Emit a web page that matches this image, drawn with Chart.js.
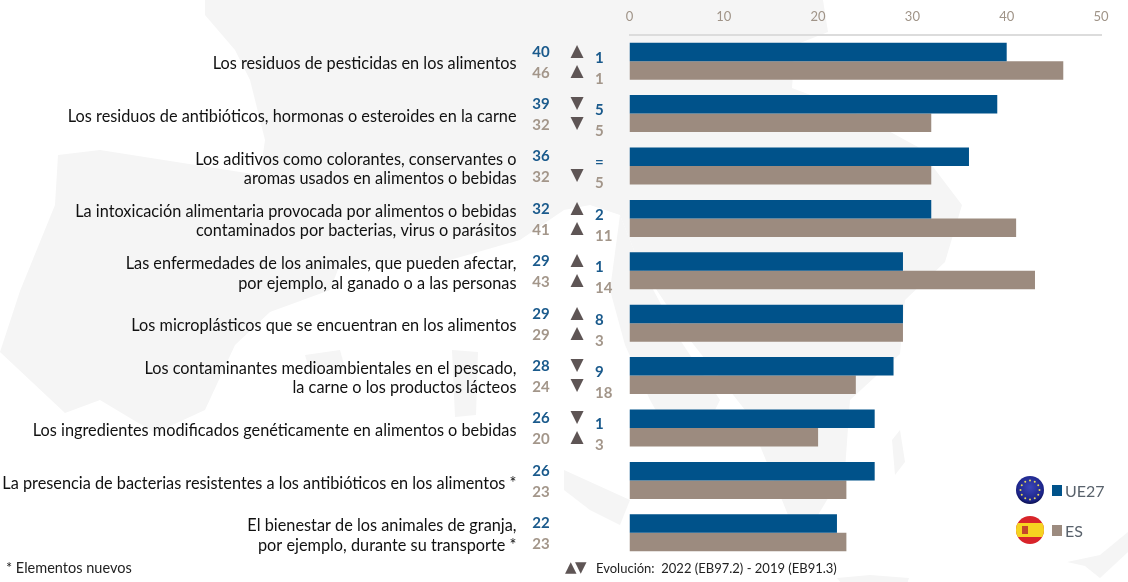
<!DOCTYPE html>
<html lang="es">
<head>
<meta charset="utf-8">
<title>Preocupaciones alimentarias</title>
<script src="https://cdn.jsdelivr.net/npm/chart.js@4/dist/chart.umd.min.js"></script>
<style>
    body { margin: 0; background: #fff; font-family: Lato, sans-serif; }
    #wrap { position: relative; width: 1128px; height: 582px; overflow: hidden; }
    #map, #chart { position: absolute; left: 0; top: 0; }
    .note { position: absolute; font-size: 14.5px; color: #222; white-space: pre; }
    .arrows { position: absolute; left: 565px; top: 558px; font-family: "DejaVu Sans"; color: #5e5555; font-size: 15px; letter-spacing: -1.5px; }
    .legend-item { position: absolute; left: 1052px; font-size: 16px; color: #59626c; line-height: 20px; padding-left: 13px; }
    .legend-item i { position: absolute; left: 0; top: 4px; width: 10px; height: 11px; }
    .flag { position: absolute; left: 1016px; }
</style>
</head>
<body>
<div id="wrap">
    <!-- faint map of Europe behind the chart -->
    <svg id="map" width="1128" height="582" fill="#f5f5f5">
        <polygon points="205,0 823,0 828,32 795,45 792,88 850,110 918,147 962,205 945,262 905,300 900,354 850,400 845,470 815,520 790,520 770,470 745,410 690,340 640,265 620,215 590,205 564,210 520,240 450,260 341,262 330,290 270,312 235,345 205,410 155,433 100,400 65,413 0,352 20,291 55,205 58,155 100,150 260,175 265,140 250,80 235,50 205,15"/>
        <polygon points="640,265 680,340 720,400 700,440 670,435 650,400 625,345 610,290 620,215"/>
        <polygon points="564,470 630,500 620,525 590,510 564,490"/>
        <polygon points="452,350 478,352 476,415 455,417"/>
        <polygon points="305,355 340,350 345,368 310,372"/>
        <polygon points="837,578 870,575 909,578 905,590 850,594"/>
        <polygon points="1128,532 1128,552 1100,578 1085,566 1067,562 1100,555"/>
        <polygon points="900,430 905,462 895,475 892,440"/>
    </svg>
    <canvas id="chart" width="1128" height="582"></canvas>

    <div class="note" style="left:6px; top:559px;">* Elementos nuevos</div>
    <div class="arrows">▲▼</div>
    <div class="note" style="left:596px; top:560px; font-size:13px;">Evolución:  2022 (EB97.2) - 2019 (EB91.3)</div>

    <svg class="flag" style="top:476px;" width="28" height="28">
        <defs>
            <radialGradient id="euBall" cx="50%" cy="40%" r="60%">
                <stop offset="0" stop-color="#3b46b8"/><stop offset="0.8" stop-color="#1c2488"/><stop offset="1" stop-color="#0a0f50"/>
            </radialGradient>
        </defs>
        <circle cx="14" cy="14" r="14" fill="url(#euBall)"/>
        <g id="euStars" fill="#e6d85a"></g>
    </svg>
    <div class="legend-item" style="top:481px;"><i style="background:#00528a"></i>UE27</div>

    <svg class="flag" style="top:516px;" width="28" height="28">
        <defs><clipPath id="esClip"><circle cx="14" cy="14" r="14"/></clipPath></defs>
        <g clip-path="url(#esClip)">
            <rect width="28" height="28" fill="#d8242a"/>
            <rect y="7" width="28" height="14" fill="#f6d320"/>
            <rect x="6" y="10" width="6" height="8" fill="#c4462a"/>
        </g>
    </svg>
    <div class="legend-item" style="top:521px;"><i style="background:#9c8b7f"></i>ES</div>
</div>

<script>
const categories = [
    ['Los residuos de pesticidas en los alimentos'],
    ['Los residuos de antibióticos, hormonas o esteroides en la carne'],
    ['Los aditivos como colorantes, conservantes o', 'aromas usados en alimentos o bebidas'],
    ['La intoxicación alimentaria provocada por alimentos o bebidas', 'contaminados por bacterias, virus o parásitos'],
    ['Las enfermedades de los animales, que pueden afectar,', 'por ejemplo, al ganado o a las personas'],
    ['Los microplásticos que se encuentran en los alimentos'],
    ['Los contaminantes medioambientales en el pescado,', 'la carne o los productos lácteos'],
    ['Los ingredientes modificados genéticamente en alimentos o bebidas'],
    ['La presencia de bacterias resistentes a los antibióticos en los alimentos *'],
    ['El bienestar de los animales de granja,', 'por ejemplo, durante su transporte *']
];
const euValues = [40, 39, 36, 32, 29, 29, 28, 26, 26, 22];
const esValues = [46, 32, 32, 41, 43, 29, 24, 20, 23, 23];
const euChange = ['1', '5', '=', '2', '1', '8', '9', '1', '', ''];
const esChange = ['1', '5', '5', '11', '14', '3', '18', '3', '', ''];
const euTrend = ['▲', '▼', '', '▲', '▲', '▲', '▼', '▼', '', ''];
const esTrend = ['▲', '▼', '▼', '▲', '▲', '▲', '▼', '▲', '', ''];
const xTicks = [0, 10, 20, 30, 40, 50];

const BLUE = '#00528a';
const BROWN = '#9c8b7f';

// Stars on the EU flag
const stars = document.getElementById('euStars');
for (let i = 0; i < 12; i++) {
    const a = i * Math.PI / 6;
    const dot = document.createElementNS('http://www.w3.org/2000/svg', 'circle');
    dot.setAttribute('cx', 14 + 9.5 * Math.cos(a));
    dot.setAttribute('cy', 14 + 9.5 * Math.sin(a));
    dot.setAttribute('r', 1);
    stars.appendChild(dot);
}

// Numbers and arrows in the columns between the labels and the bars
const columnsPlugin = {
    id: 'columns',
    afterDatasetsDraw(chart) {
        const { ctx, scales: { y } } = chart;
        const put = (text, px, py, font, color) => {
            if (!text && text !== 0) return;
            ctx.font = font;
            ctx.fillStyle = color;
            ctx.fillText(text, px, py);
        };
        ctx.save();
        ctx.textBaseline = 'middle';
        categories.forEach((_, i) => {
            const mid = y.getPixelForValue(i);
            ctx.textAlign = 'center';
            put(euValues[i], 541, mid - 9.5, 'bold 15px Lato', '#1a5a8c');
            put(esValues[i], 541, mid + 11.5, 'bold 15px Lato', '#a3968a');
            put(euTrend[i], 577, mid - 10, '17px "DejaVu Sans"', '#5e5555');
            put(esTrend[i], 577, mid + 10, '17px "DejaVu Sans"', '#5e5555');
            ctx.textAlign = 'left';
            put(euChange[i], 595, mid - 3.5, 'bold 15px Lato', '#1a5a8c');
            put(esChange[i], 595, mid + 17.5, 'bold 15px Lato', '#a3968a');
        });
        ctx.restore();
    }
};

new Chart(document.getElementById('chart'), {
    type: 'bar',
    data: {
        labels: categories,
        datasets: [
            { label: 'UE27', data: euValues, backgroundColor: BLUE },
            { label: 'ES', data: esValues, backgroundColor: BROWN }
        ]
    },
    options: {
        indexAxis: 'y',
        responsive: false,
        animation: false,
        layout: { padding: { top: 0, right: 27, bottom: 23, left: 0 } },
        datasets: { bar: { categoryPercentage: 0.707, barPercentage: 1 } },
        plugins: { legend: { display: false }, tooltip: { enabled: false } },
        scales: {
            x: {
                position: 'top',
                min: 0,
                max: 50,
                afterFit: (scale) => { scale.height = 35; },
                afterBuildTicks: (scale) => { scale.ticks = xTicks.map(value => ({ value })); },
                grid: { display: false, drawTicks: false },
                border: { color: '#dcdcdc', width: 2 },
                ticks: { padding: 10, color: '#a09488', font: { family: 'Lato', size: 13 }, maxRotation: 0 }
            },
            y: {
                // the big tick padding would otherwise shrink the plot height
                afterFit: (scale) => {
                    scale.width = 629.5;
                    scale.paddingTop = 0;
                    scale.paddingBottom = 0;
                },
                grid: { display: false, drawTicks: false },
                border: { display: false },
                ticks: {
                    padding: 113,
                    labelOffset: 3,
                    color: '#111',
                    autoSkip: false,
                    font: { family: 'Lato', size: 16.3, lineHeight: 1.18 }
                }
            }
        }
    },
    plugins: [columnsPlugin]
});
</script>
</body>
</html>
